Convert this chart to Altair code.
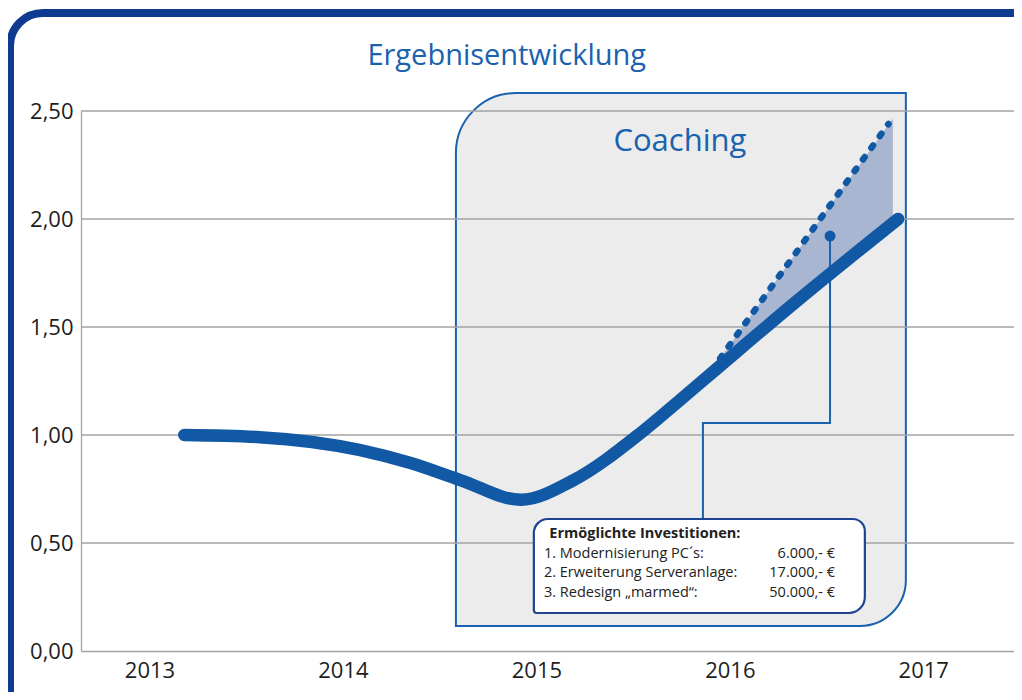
import altair as alt
import pandas as pd

# ---------------- data ----------------
main_years = [2013.18, 2013.57, 2014.09, 2014.35, 2014.61, 2014.92, 2015.19, 2015.54, 2015.74, 2015.95, 2016.36, 2016.87]
main_values = [1.00, 0.99, 0.93, 0.87, 0.79, 0.70, 0.79, 1.01, 1.16, 1.32, 1.63, 2.00]

dotted_years = [2015.95, 2016.82]
dotted_values = [1.355, 2.44]

area_years = [2015.95, 2016.843]
area_upper = [1.355, 2.465]
area_lower = [1.33, 2.00]

x_ticks = [2013, 2014, 2015, 2016, 2017]
y_ticks = [0.0, 0.5, 1.0, 1.5, 2.0, 2.5]
grid_values = [0.5, 1.0, 1.5, 2.0, 2.5]

coaching_x = [2014.584, 2016.910]
coaching_y = [0.116, 2.583]
coaching_label = "Coaching"
coaching_label_pos = [2015.742, 2.316]

connector_years = [2015.861, 2015.861, 2016.518, 2016.518]
connector_values = [0.611, 1.056, 1.056, 1.921]

info_x = [2014.987, 2016.698]
info_y = [0.176, 0.611]
info_title = "Ermöglichte Investitionen:"
info_items = ["1. Modernisierung PC´s:", "2. Erweiterung Serveranlage:", "3. Redesign „marmed“:"]
info_amounts = ["6.000,- €", "17.000,- €", "50.000,- €"]
info_rows_y = [0.429, 0.341, 0.251]
info_title_y = 0.5245
info_left = 2015.039
info_title_left = 2015.067
info_right = 2016.544

title_text = "Ergebnisentwicklung"

# ---------------- styles ----------------
FONT = "Open Sans"
BLUE = "#1259A5"
BOX_BLUE = "#1A62AE"
FRAME = "#0E3B8F"
GRID = "#A3A3A3"

W, H = 933, 540
xs = alt.Scale(domain=[2012.646, 2017.469], nice=False, zero=False)
ys = alt.Scale(domain=[0, 2.5], nice=False, zero=True)

x_axis = alt.Axis(
    values=x_ticks, format="d", title=None, grid=False, ticks=False,
    labelFontSize=22, labelFont=FONT, labelColor="#1e1e1e", labelPadding=9,
    domainColor=GRID, domainWidth=1.3)
y_axis = alt.Axis(
    values=y_ticks, title=None, grid=False, ticks=False,
    labelExpr="replace(format(datum.value, '.2f'), '.', ',')",
    labelFontSize=22, labelFont=FONT, labelColor="#1e1e1e", labelPadding=8,
    domainColor=GRID, domainWidth=1.3)


def X(f):
    return alt.X(f, type="quantitative", scale=xs, axis=x_axis)


def Y(f):
    return alt.Y(f, type="quantitative", scale=ys, axis=y_axis)


# outer decorative frame (layout element, stroke only)
frame = alt.Chart(pd.DataFrame({"a": [0]})).mark_rect(
    filled=False, stroke=FRAME, strokeWidth=8, cornerRadius=33
).encode(x=alt.value(-71), x2=alt.value(1200), y=alt.value(-98), y2=alt.value(700))

coach_df = pd.DataFrame({"x": [coaching_x[0]], "x2": [coaching_x[1]], "y": [coaching_y[1]], "y2": [coaching_y[0]]})
coach = alt.Chart(coach_df).mark_rect(
    fill="#ECECEC", stroke=BOX_BLUE, strokeWidth=2,
    cornerRadiusTopLeft=60, cornerRadiusBottomRight=46
).encode(x=X("x"), x2="x2", y=Y("y"), y2="y2")

grid = alt.Chart(pd.DataFrame({"v": grid_values})).mark_rule(
    color=GRID, strokeWidth=1.3
).encode(y=Y("v"))

area_df = pd.DataFrame({"x": area_years, "hi": area_upper, "lo": area_lower})
area = alt.Chart(area_df).mark_area(color="#A9B6D1", opacity=1).encode(
    x=X("x"), y=Y("hi"), y2="lo")

dot_df = pd.DataFrame({"x": dotted_years, "y": dotted_values})
dotted = alt.Chart(dot_df).mark_line(
    color=BLUE, strokeWidth=6.5, strokeDash=[3, 11.4], strokeCap="round"
).encode(x=X("x"), y=Y("y"))

conn_df = pd.DataFrame({"x": connector_years, "y": connector_values, "i": list(range(len(connector_years)))})
conn = alt.Chart(conn_df).mark_line(color=BOX_BLUE, strokeWidth=2).encode(
    x=X("x"), y=Y("y"), order="i:Q")

pin_df = pd.DataFrame({"x": [connector_years[-1]], "y": [connector_values[-1]]})
pin = alt.Chart(pin_df).mark_circle(color=BLUE, size=120, opacity=1).encode(x=X("x"), y=Y("y"))

main_df = pd.DataFrame({"x": main_years, "y": main_values})
main = alt.Chart(main_df).mark_line(
    color=BLUE, strokeWidth=12.5, strokeCap="round", strokeJoin="round", interpolate="monotone"
).encode(x=X("x"), y=Y("y"))

info_df = pd.DataFrame({"x": [info_x[0]], "x2": [info_x[1]], "y": [info_y[1]], "y2": [info_y[0]]})
info = alt.Chart(info_df).mark_rect(
    fill="white", stroke="#1D4591", strokeWidth=2.2,
    cornerRadiusTopLeft=14, cornerRadiusTopRight=12, cornerRadiusBottomRight=16, cornerRadiusBottomLeft=3
).encode(x=X("x"), x2="x2", y=Y("y"), y2="y2")

info_title_mark = alt.Chart(pd.DataFrame({"x": [info_title_left], "y": [info_title_y], "t": [info_title]})).mark_text(
    align="left", baseline="alphabetic", font=FONT, fontSize=14.5, fontWeight="bold", color="#222222"
).encode(x=X("x"), y=Y("y"), text="t:N")

items_df = pd.DataFrame({"x": [info_left] * 3, "y": info_rows_y, "t": info_items})
items = alt.Chart(items_df).mark_text(
    align="left", baseline="alphabetic", font=FONT, fontSize=14.5, color="#222222"
).encode(x=X("x"), y=Y("y"), text="t:N")

amt_df = pd.DataFrame({"x": [info_right] * 3, "y": info_rows_y, "t": info_amounts})
amounts = alt.Chart(amt_df).mark_text(
    align="right", baseline="alphabetic", font=FONT, fontSize=14.5, color="#222222"
).encode(x=X("x"), y=Y("y"), text="t:N")

coach_text = alt.Chart(pd.DataFrame({"x": [coaching_label_pos[0]], "y": [coaching_label_pos[1]], "t": [coaching_label]})).mark_text(
    align="center", baseline="alphabetic", font=FONT, fontSize=31, color=BOX_BLUE
).encode(x=X("x"), y=Y("y"), text="t:N")

title = alt.Chart(pd.DataFrame({"t": [title_text]})).mark_text(
    align="center", baseline="alphabetic", font=FONT, fontSize=29, color=BOX_BLUE
).encode(x=alt.value(425.7), y=alt.value(-46), text="t:N")

chart = alt.layer(
    frame, coach, grid, area, dotted, conn, main, pin, info,
    info_title_mark, items, amounts, coach_text, title
).properties(
    width=W, height=H,
    autosize=alt.AutoSizeParams(type="none"),
    padding={"left": 73, "top": 103, "right": 0, "bottom": 41},
).configure_view(strokeWidth=0)

chart.save("out.html", embed_options={"renderer": "svg", "actions": False})
